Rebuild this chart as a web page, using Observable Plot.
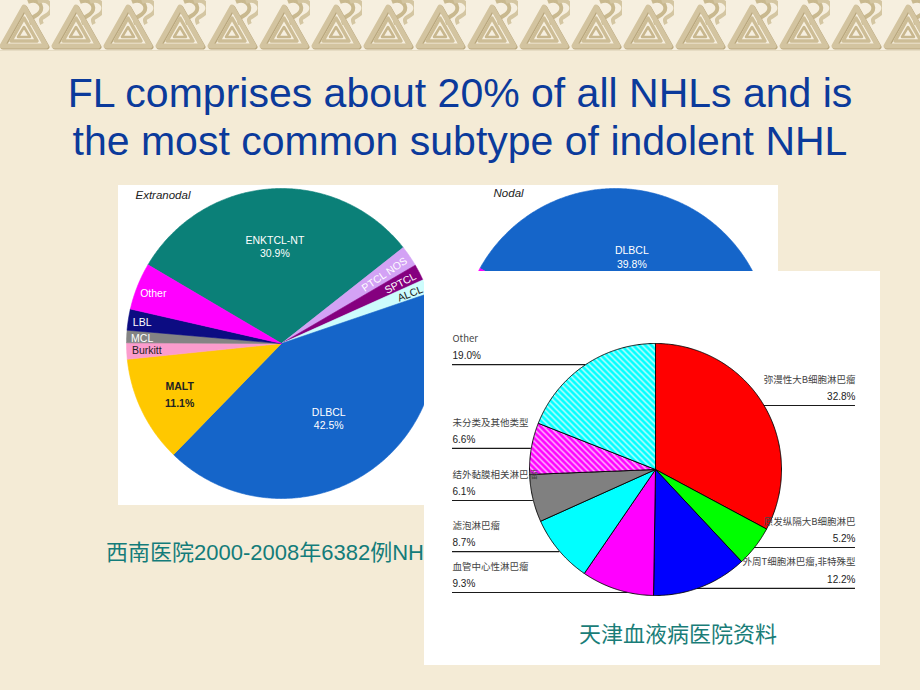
<!DOCTYPE html>
<html>
<head>
<meta charset="utf-8">
<script src="https://cdn.jsdelivr.net/npm/d3@7"></script>
<script src="https://cdn.jsdelivr.net/npm/@observablehq/plot@0.6"></script>
<style>
html,body{margin:0;padding:0;}
body{width:920px;height:690px;overflow:hidden;position:relative;background:#f4ebd6;font-family:"Liberation Sans",Arial,sans-serif;}
#band{position:absolute;left:0;top:0;}
#title{position:absolute;left:0;top:69px;width:920px;text-align:center;color:#0b3a9b;font-size:41px;line-height:48px;}
#panelA{position:absolute;left:118px;top:185px;width:660px;height:320px;background:#fff;}
#cap1{position:absolute;left:106px;top:540px;font-size:22px;line-height:26px;color:#137c7a;white-space:nowrap;font-family:"Liberation Sans","Noto Sans CJK SC",sans-serif;}
#boxB{position:absolute;left:424px;top:271px;width:456px;height:394px;background:#fff;}
#cap2{position:absolute;left:26px;top:348px;width:456px;text-align:center;font-size:22px;line-height:26px;color:#1a7d78;font-family:"Noto Sans CJK SC",sans-serif;}
svg{display:block;}
</style>
</head>
<body>
<svg width="0" height="0" style="position:absolute">
  <defs>
    <pattern id="hatchCyan" patternUnits="userSpaceOnUse" width="6" height="6">
      <rect width="6" height="6" fill="#00ffff"/>
      <path d="M-1,-1 L7,7 M-1,5 L1,7 M5,-1 L7,1" stroke="#ffffff" stroke-width="1.2"/>
    </pattern>
    <pattern id="hatchMagenta" patternUnits="userSpaceOnUse" width="6" height="6">
      <rect width="6" height="6" fill="#ff00ff"/>
      <path d="M-1,-1 L7,7 M-1,5 L1,7 M5,-1 L7,1" stroke="#ffffff" stroke-width="1.2"/>
    </pattern>
    <pattern id="bandPat" patternUnits="userSpaceOnUse" width="52" height="50" x="-2">
      <g fill="none" stroke-linejoin="round">
        <path d="M30,2 C40,-2 46,6 42,12 C38,18 30,16 34,24" stroke="#c9b98f" stroke-width="4"/>
        <path d="M40,2 C50,-2 56,6 52,12 C48,18 40,16 44,24" stroke="#d4c6a2" stroke-width="4"/>
        <polygon points="4,46 26,7 48,46" stroke="#b9a77d" stroke-width="5" transform="translate(1,1)"/>
        <polygon points="4,46 26,7 48,46" stroke="#d3c4a0" stroke-width="5"/>
        <polygon points="13,41 26,18 39,41" stroke="#cdbd96" stroke-width="3.5"/>
        <polygon points="20,37 26,27 32,37" stroke="#c8b78e" stroke-width="2.5"/>
      </g>
    </pattern>
  </defs>
</svg>
<svg id="band" width="920" height="52">
  <rect x="0" y="0" width="920" height="50" fill="#f6efdf"/>
  <rect x="0" y="0" width="920" height="50" fill="url(#bandPat)"/>
  <line x1="0" y1="50.5" x2="920" y2="50.5" stroke="#e6dcc4" stroke-width="1"/>
</svg>
<div id="title">FL comprises about 20% of all NHLs and is<br>the most common subtype of indolent NHL</div>
<div id="panelA"></div>
<div id="cap1">西南医院2000-2008年6382例NHL资料</div>
<div id="boxB"><div id="cap2">天津血液病医院资料</div></div>
<script>
// ---------- data ----------
const extranodalCategories = ["ENKTCL-NT","PTCL NOS","SPTCL","ALCL","DLBCL","MALT","Burkitt","MCL","LBL","Other"];
const extranodalValues = [30.9, 2.2, 1.7, 1.5, 42.5, 11.1, 1.7, 1.3, 2.2, 4.9];

const nodalCategories = ["DLBCL", "Others (covered)"];
const nodalValues = [39.8, 60.2];

const tianjinCategories = ["弥漫性大B细胞淋巴瘤","原发纵隔大B细胞淋巴","外周T细胞淋巴瘤,非特殊型","血管中心性淋巴瘤","滤泡淋巴瘤","结外黏膜相关淋巴瘤","未分类及其他类型","Other"];
const tianjinValues = [32.8, 5.2, 12.2, 9.3, 8.7, 6.1, 6.6, 19.0];

const pieTitles = ["Extranodal", "Nodal"];

// ---------- styles / layout ----------
const extranodalColors = ["#0b8078","#d3a2f5","#85007f","#cdfcfc","#1565c9","#ffc800","#fb9ccd","#848484","#0c0c82","#ff00ff"];
const extranodalInk = ["#fff","#fff","#fff","#222","#fff","#222","#222","#fff","#fff","#fff"];
const extranodalLabelR = [0.63,0.8,0.86,0.89,0.57,0.73,0.87,0.9,0.91,0.89];
const nodalColors = ["#1565c9","#ff00ff"];
const tianjinFills = ["#ff0000","#00ff00","#0000ff","#ff00ff","#00ffff","#808080","url(#hatchMagenta)","url(#hatchCyan)"];
const tianjinLabelY = [0.508,-0.619,-0.944,-0.976,-0.651,-0.246,0.167,0.833];

const rad = d => d * Math.PI / 180;

function pieGeometry(cats, vals, colors, cx, cy, startDeg) {
  const arcs = d3.pie().sort(null).value(d => d)
    .startAngle(rad(startDeg)).endAngle(rad(startDeg + 360))(vals);
  const pts = [];
  const mids = [];
  arcs.forEach((a, i) => {
    const key = cx + ":" + cats[i];
    const color = colors[i];
    pts.push({key, color, x: cx, y: cy});
    const n = Math.max(2, Math.ceil((a.endAngle - a.startAngle) / rad(0.5)));
    for (let k = 0; k <= n; k++) {
      const t = a.startAngle + (a.endAngle - a.startAngle) * k / n;
      pts.push({key, color, x: cx + Math.sin(t), y: cy + Math.cos(t)});
    }
    pts.push({key, color, x: cx, y: cy});
    mids.push((a.startAngle + a.endAngle) / 2);
  });
  return {pts, mids};
}

// ---------- Panel A: Extranodal + Nodal ----------
const nodalCx = 2.155;
const ext = pieGeometry(extranodalCategories, extranodalValues, extranodalColors, 0, 0, -59.5);
const nod = pieGeometry(nodalCategories, nodalValues, nodalColors, nodalCx, 0, -61);

const extLabels = extranodalCategories.map((c, i) => {
  const m = ext.mids[i], r = extranodalLabelR[i];
  const deg = m * 180 / Math.PI;
  const small = extranodalValues[i] < 5;
  return {
    name: c,
    text: extranodalValues[i] >= 10 ? c + "\n" + extranodalValues[i].toFixed(1) + "%" : c,
    x: Math.sin(m) * r, y: Math.cos(m) * r,
    ink: extranodalInk[i],
    rotate: small && deg > 0 && deg < 180 ? deg - 90 : 0
  };
});
const nodLabels = [{
  text: nodalCategories[0] + "\n" + nodalValues[0].toFixed(1) + "%",
  x: nodalCx + Math.sin(nod.mids[0]) * 0.57, y: Math.cos(nod.mids[0]) * 0.57
}];
const titleRows = [
  {text: pieTitles[0], x: -0.942, y: 0.955},
  {text: pieTitles[1], x: nodalCx - 0.787, y: 0.968}
];

const plotA = Plot.plot({
  width: 660, height: 320, margin: 0,
  x: {domain: [-1.0516, 3.2065], axis: null},
  y: {domain: [-1.0452, 1.0194], axis: null},
  color: {type: "identity"},
  style: {background: "transparent"},
  marks: [
    Plot.line(nod.pts, {x: "x", y: "y", z: "key", fill: "color", stroke: "color", strokeWidth: 0.6}),
    Plot.line(ext.pts, {x: "x", y: "y", z: "key", fill: "color", stroke: "color", strokeWidth: 0.6}),
    Plot.text(extLabels.filter(d => d.name !== "MALT"), {x: "x", y: "y", text: "text", fill: "ink", rotate: "rotate",
      fontSize: 10.5, lineHeight: 1.3, fontFamily: "Liberation Sans, Arial, sans-serif"}),
    Plot.text(extLabels.filter(d => d.name === "MALT"), {x: "x", y: "y", text: "text", fill: "ink",
      fontSize: 10.5, lineHeight: 1.6, fontWeight: "bold", fontFamily: "Liberation Sans, Arial, sans-serif"}),
    Plot.text(nodLabels, {x: "x", y: "y", text: "text", fill: "#fff",
      fontSize: 10.5, lineHeight: 1.3, fontFamily: "Liberation Sans, Arial, sans-serif"}),
    Plot.text(titleRows, {x: "x", y: "y", text: "text", textAnchor: "start", fill: "#222",
      fontSize: 11.5, fontStyle: "italic", fontFamily: "Liberation Sans, Arial, sans-serif"})
  ]
});
document.getElementById("panelA").appendChild(plotA);

// ---------- Panel B: Tianjin ----------
const tj = pieGeometry(tianjinCategories, tianjinValues, tianjinFills, 0, 0, 0);
const leftX = -1.611, rightX = 1.587;
const tjRows = tianjinCategories.map((c, i) => {
  const deg = tj.mids[i] * 180 / Math.PI;
  const right = deg < 180;
  const y = tianjinLabelY[i];
  const edge = Math.sqrt(Math.max(0, 1 - y * y));
  return {
    name: c, pct: tianjinValues[i].toFixed(1) + "%", right, y,
    tx: right ? rightX : leftX,
    x1: right ? edge : leftX,
    x2: right ? rightX : -edge
  };
});

const plotB = Plot.plot({
  width: 456, height: 344, margin: 0,
  x: {domain: [-1.8333, 1.7857], axis: null},
  y: {domain: [-1.1587, 1.5714], axis: null},
  color: {type: "identity"},
  style: {background: "transparent"},
  marks: [
    Plot.ruleY(tjRows, {y: "y", x1: "x1", x2: "x2", stroke: "#1a1a1a", strokeWidth: 1.2}),
    Plot.line(tj.pts, {x: "x", y: "y", z: "key", fill: "color", stroke: "#000", strokeWidth: 0.9}),
    Plot.text(tjRows.filter(d => !d.right), {x: "tx", y: "y", text: "name", dy: -26, textAnchor: "start",
      fill: "#444", fontSize: 9.5, fontFamily: "Noto Sans CJK SC, sans-serif"}),
    Plot.text(tjRows.filter(d => !d.right), {x: "tx", y: "y", text: "pct", dy: -9, textAnchor: "start",
      fill: "#222", fontSize: 10, fontFamily: "Liberation Sans, Arial, sans-serif"}),
    Plot.text(tjRows.filter(d => d.right), {x: "tx", y: "y", text: "name", dy: -26, textAnchor: "end",
      fill: "#444", fontSize: 9.5, fontFamily: "Noto Sans CJK SC, sans-serif"}),
    Plot.text(tjRows.filter(d => d.right), {x: "tx", y: "y", text: "pct", dy: -9, textAnchor: "end",
      fill: "#222", fontSize: 10, fontFamily: "Liberation Sans, Arial, sans-serif"})
  ]
});
const boxB = document.getElementById("boxB");
boxB.insertBefore(plotB, boxB.firstChild);
</script>
</body>
</html>
